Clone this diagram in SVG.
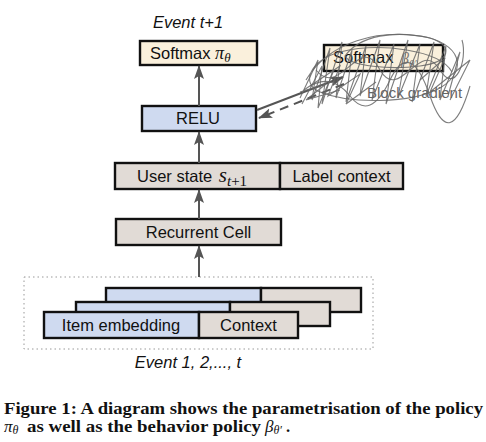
<svg xmlns="http://www.w3.org/2000/svg" width="486" height="442" viewBox="0 0 486 442">
<style>
.box{stroke:#111;stroke-width:2.4}
.beige{fill:#faf0dc}
.blue{fill:#cfdaf0}
.gray{fill:#e1dbd6}
.lbl{font-family:"Liberation Sans",Arial,sans-serif;font-size:16.5px;fill:#111}
.it{font-family:"Liberation Sans",Arial,sans-serif;font-size:16.5px;font-style:italic;fill:#111}
.math{font-family:"Liberation Serif","Times New Roman",serif;font-style:italic;fill:#111}
.conn{stroke:#555;stroke-width:2;fill:none}
.scr{stroke:#666;stroke-width:1.1;fill:none;opacity:0.85}
.cap{font-family:"Liberation Serif","Times New Roman",serif;font-weight:bold;font-size:16.5px;fill:#111}
.capm{font-family:"Liberation Serif","Times New Roman",serif;font-style:italic;fill:#111}
</style>
<defs>
<marker id="ah" markerUnits="userSpaceOnUse" markerWidth="14" markerHeight="12" refX="13" refY="5" orient="auto">
<path d="M0,0 L14,5 L0,10 L3,5 z" fill="#555"/>
</marker>
</defs>
<rect width="486" height="442" fill="#fff"/>

<g id="event-next">
<text class="it" x="188" y="28" text-anchor="middle">Event t+1</text>
</g>

<g id="softmax-pi">
<rect class="box beige" x="140" y="41" width="117" height="24"/>
<text class="lbl" x="150" y="59">Softmax <tspan class="math" font-size="18">π</tspan><tspan class="math" font-size="13" dy="3">θ</tspan></text>
</g>

<g id="relu">
<rect class="box blue" x="142" y="106" width="114" height="25"/>
<text class="lbl" x="198" y="124" text-anchor="middle">RELU</text>
</g>

<g id="softmax-beta">
<rect class="box beige" x="324" y="45" width="119" height="26"/>
<text class="lbl" x="333" y="63">Softmax</text>
<text class="math" x="401" y="64" font-size="16" style="fill:#777">β<tspan font-size="11" dy="3">θ′</tspan></text>
</g>

<g id="block-gradient">
<text x="367" y="98" style="font-family:'Liberation Sans',Arial,sans-serif;font-size:15px;fill:#666">Block gradient</text>
</g>

<g id="user-state">
<rect class="box gray" x="115" y="163" width="165" height="26"/>
<text class="lbl" x="137" y="182">User state <tspan class="math" font-size="21" dx="2">s</tspan><tspan class="math" font-size="15" dy="4">t</tspan><tspan font-family="Liberation Serif" font-size="15">+1</tspan></text>
</g>

<g id="label-context">
<rect class="box gray" x="280" y="163" width="123" height="26"/>
<text class="lbl" x="341.5" y="182" text-anchor="middle">Label context</text>
</g>

<g id="recurrent-cell">
<rect class="box gray" x="116" y="219" width="165" height="26"/>
<text class="lbl" x="198.5" y="238" text-anchor="middle">Recurrent Cell</text>
</g>

<g id="events">
<rect x="24" y="277" width="349" height="72" fill="none" stroke="#999" stroke-width="1" stroke-dasharray="1.5,3"/>
<rect class="box blue" x="106" y="288" width="155" height="24"/>
<rect class="box gray" x="261" y="288" width="100" height="24"/>
<rect class="box blue" x="76" y="302" width="154" height="24"/>
<rect class="box gray" x="230" y="302" width="100" height="24"/>
<rect class="box blue" x="44" y="312" width="155" height="26"/>
<rect class="box gray" x="199" y="312" width="99" height="26"/>
<text class="lbl" x="121" y="331" text-anchor="middle">Item embedding</text>
<text class="lbl" x="248.5" y="331" text-anchor="middle">Context</text>
<text class="it" x="188" y="368" text-anchor="middle">Event 1, 2,..., t</text>
</g>

<g id="connectors">
<line class="conn" x1="199" y1="106" x2="199" y2="66" marker-end="url(#ah)"/>
<line class="conn" x1="199" y1="163" x2="199" y2="132" marker-end="url(#ah)"/>
<line class="conn" x1="199" y1="219" x2="199" y2="190" marker-end="url(#ah)"/>
<line class="conn" x1="199" y1="277" x2="199" y2="246" marker-end="url(#ah)"/>
<line class="conn" x1="257" y1="110" x2="343" y2="77" marker-end="url(#ah)"/>
<line class="conn" x1="344" y1="84" x2="259" y2="118" stroke-dasharray="9,6" marker-end="url(#ah)"/>
</g>

<g id="scribble">
<path class="scr" d="M300,98 L318,60 L312,100 L330,48 L322,104 L342,42 L336,98 L352,50 L346,102 L366,46 L360,96 L380,40 L372,100 L394,44 L386,104 L408,40 L398,98 L420,44 L412,102 L434,42 L426,96 L446,46 L440,100 L460,52 L448,96"/>
<path class="scr" d="M306,80 C330,40 380,30 420,36 C460,42 470,70 440,88 C410,104 350,104 320,92 C300,84 310,60 340,52 C380,42 440,50 452,72"/>
<path class="scr" d="M304,90 Q330,70 350,96 T390,80 T430,96 T470,86"/>
<path class="scr" d="M316,70 C340,100 360,30 380,70 C400,104 420,36 440,70 C455,95 468,60 462,40"/>
<path class="scr" d="M310,86 L340,66 L328,96 L360,74 L346,104 L376,82 M420,80 L445,58 L430,92 L470,60 L450,100"/>
<path class="scr" d="M345,56 C360,35 395,30 430,38 C455,46 450,62 420,66 C390,70 350,66 345,56 z"/>
<path class="scr" d="M302,104 L322,66 L318,108 L334,70 M300,92 L326,84 L306,100 L340,90"/>
</g>

<g id="caption">
<text class="cap" x="4" y="414" textLength="479" lengthAdjust="spacingAndGlyphs">Figure 1: A diagram shows the parametrisation of the policy</text>
<text class="capm" x="4" y="432" font-size="17">π<tspan font-size="12" dy="2">θ</tspan></text>
<text class="cap" x="27" y="432" textLength="234" lengthAdjust="spacingAndGlyphs">as well as the behavior policy</text>
<text class="capm" x="265" y="432" font-size="17">β<tspan font-size="12" dy="2">θ′</tspan></text>
<text class="cap" x="286" y="432">.</text>
</g>
</svg>
